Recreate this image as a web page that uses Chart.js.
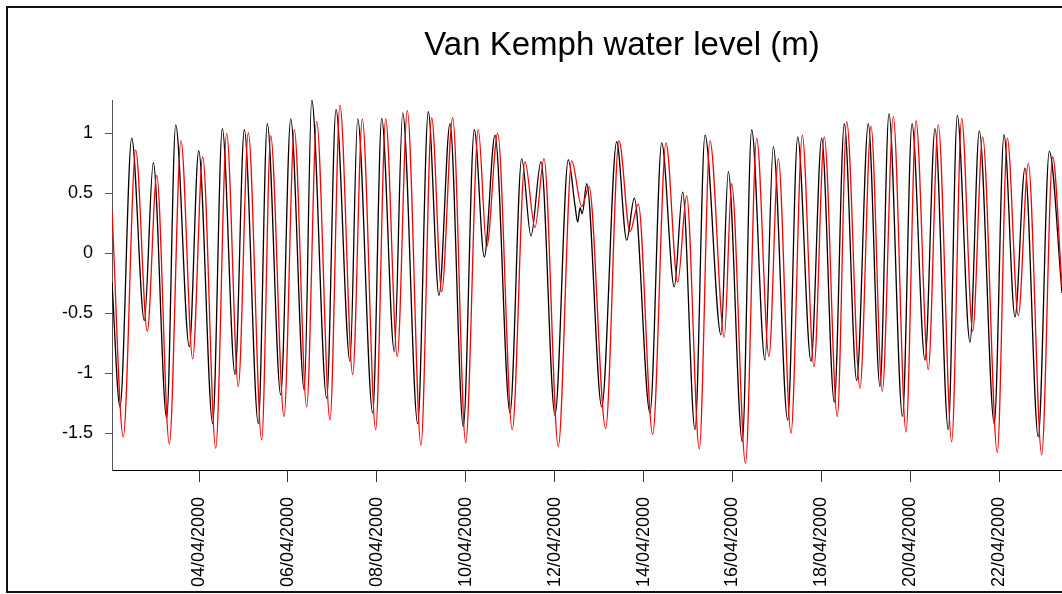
<!DOCTYPE html>
<html>
<head>
<meta charset="utf-8">
<script src="https://cdn.jsdelivr.net/npm/chart.js@4"></script>
<style>
  html, body { margin: 0; padding: 0; background: #fff; overflow: hidden; }
  canvas { display: block; }
</style>
</head>
<body>
<canvas id="c" width="1062" height="594"></canvas>
<script>
const blackDays = [2.043, 2.223, 2.486, 2.770, 2.972, 3.273, 3.476, 3.782, 3.993, 4.308, 4.524, 4.810, 5.019, 5.334, 5.536, 5.838, 6.063, 6.368, 6.535, 6.872, 7.081, 7.396, 7.569, 7.907, 8.109, 8.393, 8.582, 8.919, 9.157, 9.398, 9.645, 9.945, 10.192, 10.417, 10.658, 10.995, 11.258, 11.467, 11.692, 12.007, 12.306, 12.457, 12.518, 12.570, 12.620, 12.720, 13.058, 13.395, 13.620, 13.791, 14.144, 14.407, 14.690, 14.879, 15.156, 15.381, 15.741, 15.905, 16.220, 16.431, 16.730, 16.917, 17.241, 17.466, 17.765, 18.006, 18.289, 18.514, 18.793, 19.054, 19.317, 19.519, 19.823, 20.037, 20.329, 20.554, 20.853, 21.056, 21.341, 21.551, 21.888, 22.106, 22.354, 22.578, 22.877, 23.125, 23.411];
const blackLevel = [-0.24, -1.28, 0.96, -0.56, 0.755, -1.375, 1.07, -0.78, 0.855, -1.42, 1.04, -1.01, 1.03, -1.42, 1.08, -1.18, 1.12, -1.14, 1.28, -1.21, 1.20, -0.90, 1.12, -1.33, 1.125, -0.82, 1.17, -1.42, 1.18, -0.35, 1.08, -1.445, 1.03, -0.03, 0.985, -1.33, 0.79, 0.145, 0.765, -1.35, 0.78, 0.40, 0.26, 0.38, 0.33, 0.58, -1.28, 0.93, 0.11, 0.46, -1.33, 0.92, -0.28, 0.51, -1.47, 0.985, -0.68, 0.68, -1.57, 1.03, -0.89, 0.89, -1.39, 0.97, -0.90, 0.96, -1.24, 1.08, -1.06, 1.08, -1.11, 1.165, -1.36, 1.08, -0.89, 1.04, -1.47, 1.15, -0.74, 1.02, -1.42, 0.99, -0.53, 0.71, -1.53, 0.85, -0.33];

const redDays = [2.043, 2.297, 2.576, 2.837, 3.049, 3.332, 3.595, 3.858, 4.083, 4.376, 4.623, 4.884, 5.109, 5.410, 5.613, 5.912, 6.144, 6.422, 6.647, 6.946, 7.171, 7.457, 7.673, 7.974, 8.199, 8.460, 8.685, 8.993, 9.234, 9.459, 9.706, 9.999, 10.282, 10.471, 10.718, 11.047, 11.332, 11.557, 11.760, 12.081, 12.383, 12.608, 12.772, 13.147, 13.447, 13.694, 13.881, 14.205, 14.504, 14.767, 14.969, 15.253, 15.493, 15.815, 15.981, 16.292, 16.544, 16.820, 17.030, 17.315, 17.570, 17.833, 18.064, 18.357, 18.568, 18.867, 19.115, 19.369, 19.616, 19.902, 20.127, 20.403, 20.628, 20.930, 21.155, 21.402, 21.627, 21.956, 22.181, 22.428, 22.653, 22.954, 23.201, 23.411];
const redLevel = [0.36, -1.53, 0.86, -0.65, 0.65, -1.59, 0.94, -0.88, 0.805, -1.625, 1.00, -1.11, 1.005, -1.555, 0.98, -1.36, 1.03, -1.28, 1.10, -1.39, 1.235, -1.01, 1.12, -1.47, 1.12, -0.86, 1.19, -1.60, 1.13, -0.32, 1.13, -1.58, 1.03, 0.055, 1.00, -1.47, 0.765, 0.215, 0.79, -1.61, 0.77, 0.39, 0.555, -1.46, 0.94, 0.18, 0.41, -1.51, 0.92, -0.24, 0.48, -1.63, 0.94, -0.70, 0.58, -1.75, 0.96, -0.86, 0.79, -1.50, 0.985, -0.945, 0.97, -1.36, 1.10, -1.125, 1.06, -1.15, 1.14, -1.49, 1.105, -0.97, 1.07, -1.57, 1.125, -0.65, 0.97, -1.66, 0.96, -0.52, 0.75, -1.68, 0.805, -0.28];

const yTicks = [-1.5, -1, -0.5, 0, 0.5, 1];
const xTickDays = [4, 6, 8, 10, 12, 14, 16, 18, 20, 22];
const titleText = "Van Kemph water level (m)";

const fontFamily = '"Liberation Sans", Arial, sans-serif';

function toPoints(days, levels) {
	let pts = [];
	for (let i = 0; i < days.length; i++) {
		pts.push({x: days[i], y: levels[i]});
	}
	return pts;
}

function dayLabel(d) {
	let s = String(Math.round(d));
	if (s.length < 2) s = "0" + s;
	return s + "/04/2000";
}

// frame round the figure and the title, drawn straight on the canvas
const framePlugin = {
	id: 'frame',
	beforeDraw(chart) {
		let ctx = chart.ctx;
		ctx.save();
		ctx.fillStyle = "#fff";
		ctx.fillRect(0, 0, chart.width, chart.height);
		ctx.fillStyle = "#111";
		ctx.fillRect(6, 6, chart.width - 6, 2);
		ctx.fillRect(6, 6, 2, 587);
		ctx.fillRect(6, 591, chart.width - 6, 2);
		ctx.restore();
	},
	afterDraw(chart) {
		let ctx = chart.ctx;
		ctx.save();
		ctx.fillStyle = "#000";
		ctx.font = "33px " + fontFamily;
		ctx.textAlign = "center";
		ctx.textBaseline = "alphabetic";
		ctx.fillText(titleText, 622, 55);
		ctx.restore();
	}
};

new Chart(document.getElementById("c"), {
	type: "line",
	data: {
		datasets: [
			{
				label: "red",
				data: toPoints(redDays, redLevel),
				borderColor: "#ff0000",
				borderWidth: 1.3,
				pointRadius: 0,
				cubicInterpolationMode: "monotone",
				order: 0
			},
			{
				label: "black",
				data: toPoints(blackDays, blackLevel),
				borderColor: "#000000",
				borderWidth: 1.3,
				pointRadius: 0,
				cubicInterpolationMode: "monotone",
				order: 1
			}
		]
	},
	options: {
		responsive: false,
		animation: false,
		events: [],
		layout: { padding: { top: 100, left: 0, right: 0, bottom: 0 } },
		plugins: {
			legend: { display: false },
			title: { display: false },
			tooltip: { enabled: false }
		},
		scales: {
			x: {
				type: "linear",
				min: 2.043,
				max: 23.411,
				afterFit(s) { s.height = 124; },
				afterBuildTicks(s) { s.ticks = xTickDays.map(v => ({value: v})); },
				border: { display: true, color: "#000", width: 1 },
				grid: { drawOnChartArea: false, drawTicks: true, tickLength: 12, tickColor: "#333", tickWidth: 1 },
				ticks: {
					autoSkip: false,
					minRotation: 90,
					maxRotation: 90,
					padding: 15,
					color: "#000",
					font: { family: fontFamily, size: 18 },
					callback: v => dayLabel(v)
				}
			},
			y: {
				type: "linear",
				min: -1.806,
				max: 1.278,
				afterFit(s) { s.width = 112; },
				afterBuildTicks(s) { s.ticks = yTicks.map(v => ({value: v})); },
				border: { display: true, color: "#555", width: 1 },
				grid: { drawOnChartArea: false, drawTicks: true, tickLength: 7, tickColor: "#555", tickWidth: 1 },
				ticks: {
					padding: 12,
					color: "#000",
					font: { family: fontFamily, size: 18 },
					callback: v => String(v)
				}
			}
		}
	},
	plugins: [framePlugin]
});
</script>
</body>
</html>
